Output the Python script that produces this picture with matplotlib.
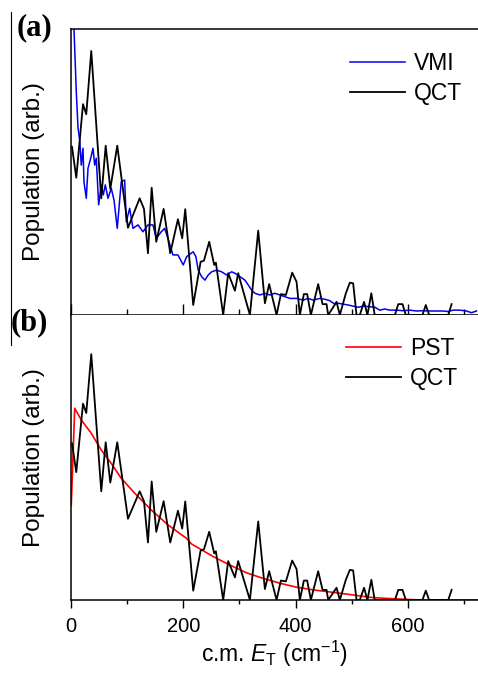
import matplotlib
matplotlib.use("Agg")
import matplotlib.pyplot as plt
from matplotlib.lines import Line2D

plt.rcParams["font.family"] = "Liberation Sans"
plt.rcParams["mathtext.fontset"] = "custom"
plt.rcParams["mathtext.rm"] = "Liberation Sans"
plt.rcParams["mathtext.it"] = "Liberation Sans:italic"

# QCT translational energy distribution (same data in both panels)
qct_e = [1.8, 9.4, 21.4, 27.2, 36.1, 53.9, 61.8, 70.0, 82.4, 101.5,
         122.3, 130.0, 137.1, 143.7, 151.9, 165.0, 176.8, 190.5, 198.1, 203.5,
         217.7, 230.9, 236.8, 246.2, 255.1, 258.1, 271.1, 280.0, 292.0, 297.8,
         318.7, 333.5, 345.4, 353.0, 366.2, 373.9, 382.8, 394.0, 401.8, 407.7,
         414.8, 420.7, 427.3, 440.3, 448.1, 455.2, 458.1, 467.0, 473.0, 478.9,
         489.6, 496.7, 502.6, 508.6, 514.5, 522.0, 528.0, 535.0, 541.0, 577.0,
         583.0, 590.5, 596.4, 626.0, 632.0, 638.0, 672.0, 678.0]
qct_pop = [0.588, 0.480, 0.737, 0.702, 0.923, 0.408, 0.592, 0.441, 0.592, 0.305,
           0.408, 0.371, 0.216, 0.445, 0.256, 0.371, 0.216, 0.335, 0.268, 0.370,
           0.035, 0.186, 0.190, 0.256, 0.175, 0.183, 0.0, 0.146, 0.085, 0.146,
           0.0, 0.295, 0.041, 0.108, 0.0, 0.073, 0.070, 0.148, 0.116, 0.0,
           0.073, 0.073, 0.0, 0.108, 0.038, 0.038, 0.0, 0.027, 0.046, 0.0,
           0.076, 0.113, 0.111, 0.0, 0.0, 0.046, 0.0, 0.076, 0.0, 0.0,
           0.038, 0.038, 0.0, 0.0, 0.035, 0.0, 0.0, 0.038]

# VMI experiment
vmi_e = [2.0, 5.3, 9.4, 12.5, 15.5, 18.3, 21.4, 23.1, 27.2, 30.3,
         35.1, 39.2, 42.2, 45.0, 49.3, 53.9, 57.5, 61.1, 65.9, 71.7,
         76.6, 82.4, 89.5, 95.6, 98.5, 104.5, 110.4, 119.3, 128.2, 137.1,
         146.0, 151.9, 160.8, 166.8, 172.7, 181.6, 190.5, 199.9, 206.0, 217.7,
         222.5, 226.6, 232.7, 238.6, 244.4, 250.5, 259.4, 268.3, 277.2, 286.1,
         292.0, 300.9, 309.8, 315.7, 321.7, 327.6, 336.5, 345.4, 354.3, 363.2,
         372.1, 381.0, 389.9, 401.8, 413.6, 422.5, 431.4, 443.3, 452.2, 461.1,
         470.0, 475.9, 484.8, 493.7, 502.6, 511.5, 520.4, 532.3, 541.2, 550.1,
         559.0, 567.9, 579.8, 591.6, 603.5, 615.4, 627.2, 639.1, 651.0, 662.8,
         671.7, 680.6, 692.5, 704.4, 713.4, 722.3]
vmi_pop = [1.10, 1.002, 0.781, 0.654, 0.612, 0.524, 0.583, 0.466, 0.408, 0.513,
           0.548, 0.583, 0.524, 0.548, 0.385, 0.455, 0.420, 0.455, 0.408, 0.443,
           0.402, 0.303, 0.466, 0.472, 0.326, 0.373, 0.303, 0.315, 0.291, 0.315,
           0.315, 0.268, 0.291, 0.303, 0.268, 0.210, 0.210, 0.175, 0.204, 0.221,
           0.204, 0.157, 0.134, 0.122, 0.140, 0.151, 0.157, 0.151, 0.140, 0.151,
           0.146, 0.134, 0.122, 0.105, 0.087, 0.076, 0.070, 0.076, 0.070, 0.076,
           0.070, 0.064, 0.058, 0.058, 0.052, 0.058, 0.052, 0.058, 0.055, 0.050,
           0.038, 0.041, 0.038, 0.035, 0.031, 0.027, 0.031, 0.029, 0.027, 0.017,
           0.021, 0.017, 0.017, 0.015, 0.017, 0.014, 0.015, 0.014, 0.014, 0.014,
           0.012, 0.017, 0.017, 0.014, 0.008, 0.014]

# phase space theory
pst_e = [0.5, 6.6, 18.3, 36.1, 53.9, 71.7, 89.5, 113.4, 143.0, 172.7,
         205.3, 214.9, 253.3, 283.1, 312.8, 342.4, 372.1, 401.8, 431.4, 473.0,
         502.6, 532.3, 562.0, 591.6, 621.3, 725.0]
pst_pop = [0.357, 0.720, 0.676, 0.626, 0.563, 0.513, 0.457, 0.401, 0.338, 0.282,
           0.232, 0.210, 0.163, 0.131, 0.102, 0.081, 0.063, 0.048, 0.038, 0.027,
           0.019, 0.010, 0.006, 0.003, 0.0, 0.0]

fig = plt.figure(figsize=(4.78, 6.73), dpi=100)
ax1 = fig.add_axes([71/478, 1 - 315/673, 407/478, 286/673])
ax2 = fig.add_axes([71/478, 1 - 600/673, 407/478, 285/673])

ax1.plot(vmi_e, vmi_pop, color="#0000ee", lw=1.1, label="VMI")
ax1.plot(qct_e, qct_pop, color="black", lw=1.3, label="QCT")
ax2.plot(pst_e, pst_pop, color="#ff0000", lw=1.2, label="PST")
ax2.plot(qct_e, qct_pop, color="black", lw=1.3, label="QCT")

ax1.set_ylim(0, 1.0)
ax2.set_ylim(0, 1.07)

for ax in (ax1, ax2):
    ax.set_xlim(0, 725)
    ax.set_xticks([0, 200, 400, 600])
    ax.set_xticks([100, 300, 500, 700], minor=True)
    ax.set_yticks([])
    ax.spines["right"].set_visible(False)
    for s in ax.spines.values():
        s.set_linewidth(1.1)
    ax.set_ylabel("Population (arb.)", fontsize=17.5)
    ax.yaxis.set_label_coords(-26/407, 0.5)

ax2.spines["top"].set_visible(False)
ax1.tick_params(axis="x", which="major", direction="in", length=8, width=1.0, labelbottom=False)
ax1.tick_params(axis="x", which="minor", direction="in", length=4.3, width=1.0)
ax2.tick_params(axis="x", which="major", direction="out", length=5.5, width=1.0, labelsize=14.5, pad=7)
ax2.tick_params(axis="x", which="minor", direction="out", length=3, width=1.0)
ax2.set_xlabel(r"c.m. $E_\mathrm{T}$ (cm$^{-1}$)", fontsize=16.5, labelpad=2)

ax1.legend(loc="upper left", bbox_to_anchor=(0.686, 0.92), frameon=False,
           fontsize=16.5, handlelength=2.4, handletextpad=0.4,
           labelspacing=0.3, borderpad=0, borderaxespad=0)
ax2.legend(loc="upper left", bbox_to_anchor=(0.676, 0.923), frameon=False,
           fontsize=16.5, handlelength=2.4, handletextpad=0.4,
           labelspacing=0.3, borderpad=0, borderaxespad=0)

fig.text(34/478, 1 - 28/673, "(a)", family="Liberation Serif", weight="bold",
         fontsize=22, ha="center", va="center")
fig.text(29/478, 1 - 323/673, "(b)", family="Liberation Serif", weight="bold",
         fontsize=22, ha="center", va="center")
fig.add_artist(Line2D([11/478, 11/478], [1 - 12/673, 1 - 345/673],
                      color="black", lw=0.8, transform=fig.transFigure))

fig.savefig("out.png", dpi=100)
